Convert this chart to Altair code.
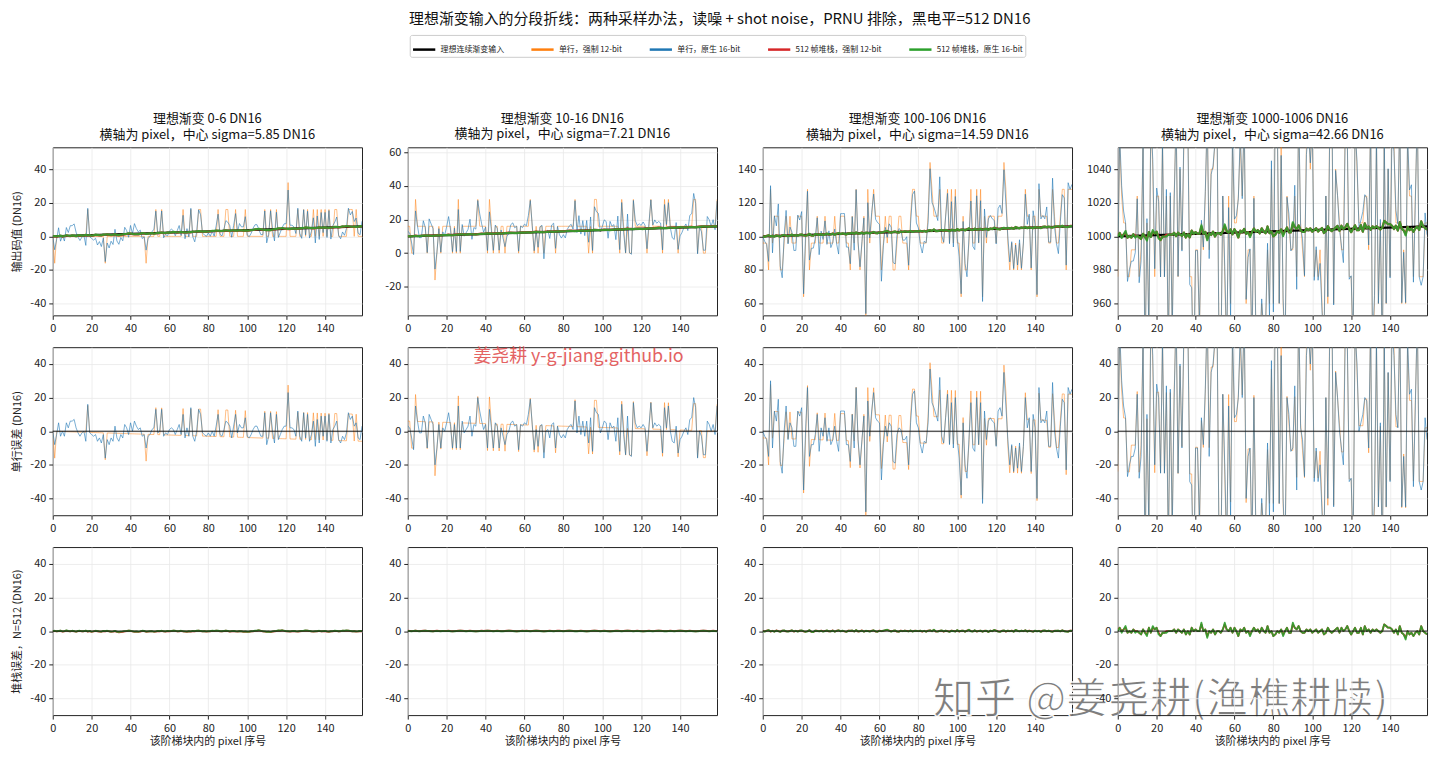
import altair as alt
import numpy as np
import pandas as pd

FONT = "Noto Sans CJK SC"

SERIES = ["理想连续渐变输入", "单行，强制 12-bit", "单行，原生 16-bit",
          "512 帧堆栈，强制 12-bit", "512 帧堆栈，原生 16-bit"]
COLORS = ["#000000", "#ff7f0e", "#1f77b4", "#d62728", "#2ca02c"]
WIDTHS = [2.2, 1.0, 1.0, 2.2, 2.2]
OPACS = [1.0, 0.5, 0.6, 1.0, 0.9]

IDEAL_LO = [0, 10, 100, 1000]
IDEAL_HI = [6, 16, 106, 1006]
LEVEL_TITLES = ["理想渐变 0-6 DN16", "理想渐变 10-16 DN16",
                "理想渐变 100-106 DN16", "理想渐变 1000-1006 DN16"]
SIGMA_TITLES = ["横轴为 pixel，中心 sigma=5.85 DN16", "横轴为 pixel，中心 sigma=7.21 DN16",
                "横轴为 pixel，中心 sigma=14.59 DN16", "横轴为 pixel，中心 sigma=42.66 DN16"]
ROW_TITLES = ["输出码值 (DN16)", "单行误差 (DN16)", "堆栈误差，N=512 (DN16)"]
X_TITLE = "该阶梯块内的 pixel 序号"
TOP_DOMAINS = [[-47, 53], [-37, 63], [53, 153], [953, 1053]]
TOP_TICKS = [[-40, -20, 0, 20, 40], [-20, 0, 20, 40, 60],
             [60, 80, 100, 120, 140], [960, 980, 1000, 1020, 1040]]
ERR_DOMAIN = [-50, 50]
ERR_TICKS = [-40, -20, 0, 20, 40]
X_TICKS = [0, 20, 40, 60, 80, 100, 120, 140]

# single row, native 16-bit: error vs ideal (DN16)
E16_C1 = [0,-8,-2,5,-3,0,-3,5,2,6,6,7,2,-1,-3,-1,0,-6,16,-1,
          -2,-3,-2,-6,-4,-7,-2,-16,-5,-8,-4,-6,3,-4,-6,-2,-4,4,2,-2,
          5,0,6,3,1,2,-3,-2,-10,-3,-2,1,2,13,-1,0,13,-3,-1,-2,
          1,2,1,-2,1,4,-2,10,-4,2,-3,14,-3,-6,0,13,10,-1,-2,-3,
          -1,-3,0,-3,3,10,-2,-3,1,6,5,3,-4,3,10,-1,4,2,2,8,
          -3,-4,-2,1,3,3,0,-3,-3,11,-8,-3,11,0,-7,10,-5,-2,1,3,
          3,23,2,2,1,-3,12,-3,-6,11,-4,10,-6,-2,6,-9,7,-7,9,-3,
          9,-6,10,-7,1,3,6,-5,-7,-3,-5,-1,11,7,9,3,5,-4,-5,3]
E16_C2 = [3,2,-4,-11,15,6,-1,-1,9,5,-10,10,7,4,-20,-10,4,-10,2,0,
          5,11,3,-10,4,-10,15,-10,6,-1,1,3,9,-3,4,3,20,12,6,1,
          4,-10,13,2,-10,5,3,-10,2,-3,-8,-2,0,5,6,3,4,-11,4,3,
          5,4,10,19,4,-11,1,-9,3,4,-16,0,1,-4,4,5,-10,3,-2,-4,
          -2,-4,1,3,4,1,18,-1,9,-2,6,-3,6,-7,8,-12,14,11,10,-1,
          2,6,5,-5,5,2,3,-6,8,-12,16,-2,-14,9,-14,-15,17,5,2,3,
          2,4,2,-12,3,17,2,5,3,4,3,-13,14,2,15,0,-6,-7,3,-13,
          -5,-3,0,2,-2,7,8,20,14,-16,0,-3,-14,-14,6,4,0,4,-2,15]
E16_C3 = [0,-3,-5,-15,30,-10,12,6,19,-18,-25,0,15,-5,5,2,-9,-9,12,9,
          14,-35,0,26,-15,-8,-8,-2,10,-12,2,-3,8,-6,2,-8,-5,3,-6,-12,
          12,12,12,-8,-8,-18,10,-10,26,-5,-20,-5,9,-48,18,-3,12,23,8,6,
          5,-29,-8,3,-3,5,3,-18,-19,-2,2,1,-5,-5,-3,-20,5,22,24,5,
          2,-8,-13,-6,-7,5,37,17,14,10,6,32,-3,-7,8,22,-8,17,-10,20,
          -5,-16,-38,5,-20,-28,-5,17,-10,-12,20,-8,17,-43,12,-5,6,8,6,5,
          -9,12,14,9,35,15,-5,-20,-8,-24,-10,-22,-7,-24,-9,20,2,8,-24,10,
          2,-40,26,5,7,5,12,-9,-9,29,0,-10,-16,3,19,17,-23,26,22,25]
E16_C4 = [-20,60,30,15,8,-27,-20,-15,-15,-10,22,-28,-15,55,-80,10,-60,70,45,-20,
          28,20,-25,55,-25,27,-70,25,-60,20,70,-25,40,-10,60,70,65,-30,-32,-90,
          -10,-10,-55,8,-8,25,70,-15,35,40,55,70,-60,-80,22,-20,-70,15,-50,60,
          8,10,20,60,20,70,-40,-15,-10,-70,20,-60,-80,-70,-40,-60,-55,-7,-50,42,
          -48,80,70,-43,45,-40,-70,20,10,-12,-10,27,-35,75,2,-5,-27,45,60,40,
          65,-30,-10,-30,-20,-48,-70,20,-40,60,90,-45,35,20,0,-10,-20,60,55,-30,
          -28,-70,60,40,0,5,10,20,18,-10,65,-70,-40,55,-45,5,-80,55,-45,35,
          -30,60,45,10,2,70,-45,-15,-45,55,22,25,-33,15,70,-30,-35,-30,8,-5]

# single row, forced 12-bit: output code in 12-bit units (x16 = DN16)
Q12_C1 = [0,-1,0,0,0,0,0,0,0,0,0,0,0,0,0,0,0,0,1,0,
          0,0,0,0,0,0,0,-1,0,0,0,0,0,0,0,0,0,0,0,0,
          0,0,0,0,0,0,0,0,-1,0,0,0,0,1,0,0,1,0,0,0,
          0,0,0,0,0,0,0,1,0,0,0,1,0,0,0,1,1,0,0,0,
          0,0,0,0,0,1,0,0,0,1,1,0,0,0,1,0,0,0,0,1,
          0,0,0,0,0,0,0,0,0,1,0,0,1,0,0,1,0,0,0,0,
          0,2,0,0,0,0,1,0,0,1,0,1,0,0,1,0,1,0,1,0,
          1,0,1,0,0,1,1,0,0,0,0,0,1,1,1,0,1,0,0,0]
Q12_C2 = [1,1,0,0,2,1,1,1,1,1,0,1,1,1,-1,0,1,0,1,1,
          1,1,1,0,1,0,2,0,1,1,1,1,1,1,1,1,2,1,1,1,
          1,0,2,1,0,1,1,0,1,1,0,1,1,1,1,1,1,0,1,1,
          1,1,1,2,1,0,1,0,1,1,0,1,1,1,1,1,0,1,1,1,
          1,1,1,1,1,1,2,1,1,1,1,1,1,0,1,0,2,2,1,1,
          1,1,1,1,1,1,1,1,1,0,2,1,0,1,0,0,2,1,1,1,
          1,1,1,0,1,2,1,1,1,1,1,0,2,1,2,1,1,1,1,0,
          1,1,1,1,1,1,1,2,2,0,1,1,0,0,1,1,1,1,1,2]
Q12_C3 = [6,6,6,5,8,6,7,7,7,5,5,6,7,6,7,6,6,6,7,7,
          7,4,6,8,5,6,6,6,7,6,6,6,7,6,6,6,6,7,6,6,
          7,7,7,6,6,5,7,6,8,6,5,6,7,3,8,6,7,8,7,7,
          7,5,6,7,6,7,7,5,5,6,7,7,6,6,6,5,7,8,8,7,
          7,6,6,6,6,7,9,8,7,7,7,8,6,6,7,8,6,8,6,8,
          6,6,4,7,5,5,6,8,6,6,8,6,8,4,7,6,7,7,7,7,
          6,7,7,7,9,8,6,5,6,5,6,5,6,5,6,8,7,7,5,7,
          7,4,8,7,7,7,7,6,6,8,7,6,6,7,8,8,5,8,8,8]
Q12_C4 = [61,66,64,63,63,61,61,62,62,62,64,61,62,66,58,63,59,67,65,61,
          64,64,61,66,61,64,58,64,59,64,67,61,65,62,66,67,67,61,61,57,
          62,62,59,63,62,64,67,62,65,65,66,67,59,58,64,61,58,64,60,66,
          63,63,64,66,64,67,60,62,62,58,64,59,58,58,60,59,59,62,60,65,
          60,68,67,60,66,60,58,64,63,62,62,64,61,67,63,62,61,66,67,65,
          67,61,62,61,62,60,58,64,60,67,68,60,65,64,63,62,62,67,66,61,
          61,58,67,65,63,63,63,64,64,62,67,58,60,66,60,63,58,66,60,65,
          61,67,66,63,63,67,60,62,60,66,64,64,61,64,67,61,61,61,63,63]

# 512-frame stack errors; columns 1-3 in tenths of DN16, column 4 in DN16
ST16_C1 = [0,2,-1,1,3,-2,0,4,1,-1,2,0,-3,1,2,-1,0,3,-2,1,
           -4,-1,2,0,-2,-3,1,0,2,-1,-3,-2,1,-4,-5,-3,-2,0,1,3,
           2,-1,-3,-2,-4,-1,2,1,-3,-2,-1,0,-3,-2,1,0,2,-1,-2,1,
           0,1,3,2,-1,0,2,-1,-2,-3,-1,-2,1,0,2,3,1,-1,0,-2,
           -1,0,2,1,3,2,0,-1,1,3,1,-2,0,1,-1,-2,0,-1,-3,-2,
           -4,-3,-1,0,2,3,5,2,-1,-2,-4,-3,-5,-2,0,1,4,3,5,2,
           0,-1,-2,0,1,-1,-2,0,1,2,4,3,1,-1,-2,-1,0,2,-1,0,
           1,-2,-3,-1,0,2,1,-1,0,3,2,4,3,1,-1,0,-2,-1,1,0]
ST12_C1 = [-1,1,-2,0,2,-3,-1,3,0,-2,1,-1,-4,0,1,-2,-1,2,-3,0,
           -5,-2,1,-1,-3,-4,0,-1,1,-2,-4,-3,0,-5,-7,-6,-4,-2,0,2,
           1,-2,-4,-3,-5,-3,1,0,-4,-3,-2,-1,-4,-3,0,-1,1,-2,-3,0,
           -1,0,2,1,-2,-1,1,-2,-3,-4,-2,-3,0,-1,1,2,0,-2,-1,-3,
           -2,-1,1,0,2,1,-1,-2,0,2,0,-3,-1,0,-2,-3,-1,-2,-4,-3,
           -5,-4,-2,-1,1,2,4,1,-2,-3,-5,-4,-6,-3,-1,0,3,2,4,1,
           -1,-2,-3,-1,0,-2,-3,-1,0,1,3,2,0,-2,-3,-2,-1,1,-2,-1,
           0,-3,-4,-2,-1,1,0,-2,-1,2,1,3,2,0,-2,-1,-3,-2,0,-1]
ST16_C2 = [1,0,-1,1,2,0,-1,0,1,2,1,0,-1,-2,0,1,0,-1,1,0,
           0,1,-1,-2,-1,0,1,2,1,0,-1,0,1,0,-1,-2,-1,0,1,0,
           1,2,1,0,-1,0,1,0,-1,-1,0,1,2,1,0,-1,-2,-1,0,1,
           0,1,0,-1,0,1,2,1,0,-1,-2,-1,0,1,0,-1,0,1,1,0,
           -1,0,1,2,1,0,-1,-1,0,1,0,-1,-2,-1,0,1,2,1,0,-1,
           0,1,0,-1,-2,-1,0,1,1,0,-1,0,1,2,1,0,-1,0,1,0,
           -1,-2,-1,0,1,0,-1,0,1,2,1,0,-1,-1,0,1,0,-1,0,1,
           2,1,0,-1,0,1,0,-1,-2,-1,0,1,2,1,0,-1,0,1,0,-1]
ST12_C2 = [2,1,0,1,3,1,0,1,2,2,1,1,0,-1,1,2,1,0,1,1,
           1,2,0,-1,0,1,2,3,2,1,0,1,2,1,0,-1,0,1,2,1,
           2,3,2,1,0,1,2,1,0,0,1,2,3,2,1,0,-1,0,1,2,
           1,2,1,0,1,2,3,2,1,0,-1,0,1,2,1,0,1,2,2,1,
           0,1,2,3,2,1,0,0,1,2,1,0,-1,0,1,2,3,2,1,0,
           1,2,1,0,-1,0,1,2,2,1,0,1,2,3,2,1,0,1,2,1,
           0,-1,0,1,2,1,0,1,2,3,2,1,0,0,1,2,1,0,1,2,
           3,2,1,0,1,2,1,0,-1,0,1,2,3,2,1,0,1,2,1,0]
ST16_C3 = [0,-3,2,6,-2,1,-4,3,-1,-5,2,4,-1,-3,0,5,-2,1,-3,2,
           4,-1,-5,-2,6,-4,-6,3,1,-2,2,-3,0,4,-1,-2,3,-4,1,5,
           -2,3,-1,-5,2,1,4,-3,6,-2,-1,3,-4,2,0,-3,1,5,-2,-4,
           2,-1,3,6,8,2,-3,1,4,-2,-4,2,-1,3,0,-2,4,-3,1,2,
           -1,3,-2,1,-4,2,5,-1,8,-2,-3,1,4,-2,3,-1,-5,2,0,-3,
           6,-2,1,3,-4,2,8,-1,-3,5,-2,0,3,-4,1,2,-6,3,-1,7,
           2,-3,-5,1,4,-2,3,-1,2,-4,7,1,-2,3,-1,5,-3,2,-1,-4,
           3,-2,1,-5,2,4,-1,3,-2,-4,1,2,3,-2,5,-1,-3,-4,2,1]
ST12_C3 = [1,-2,3,5,-3,2,-3,4,0,-4,3,3,-2,-2,1,4,-3,2,-2,3,
           3,-2,-4,-1,5,-5,-5,2,2,-1,3,-2,1,3,-2,-1,4,-3,2,4,
           -1,2,-2,-4,3,2,3,-2,5,-3,0,4,-3,1,1,-2,2,4,-3,-3,
           3,0,2,5,7,3,-2,2,3,-3,-3,3,0,2,1,-1,3,-2,2,1,
           0,2,-3,2,-3,3,4,0,7,-3,-2,2,3,-3,2,0,-4,3,1,-2,
           5,-3,2,2,-3,3,7,0,-2,4,-3,1,2,-3,2,1,-5,2,0,6,
           3,-2,-4,2,3,-3,2,0,3,-3,6,2,-1,2,0,4,-2,3,0,-3,
           2,-1,2,-4,3,3,0,2,-1,-3,2,1,2,-1,4,0,-2,-3,3,2]
ST16_C4 = [0,2,-1,1,3,-1,0,-1,1,-1,0,-1,-2,1,-1,-3,2,-1,3,1,
           2,-2,-3,-1,-1,-1,0,0,0,1,-1,1,0,-1,1,-2,0,-2,2,0,
           1,0,0,5,0,1,-4,0,-1,1,-2,0,0,-1,1,5,1,0,2,-1,
           2,0,-3,1,0,2,-1,0,-3,0,2,0,1,-1,2,0,-1,3,-1,0,
           -3,-2,0,-1,1,-3,0,2,-1,-1,5,2,1,3,0,-1,-1,1,0,1,
           -1,0,1,-1,0,1,-2,-1,2,0,-1,0,1,2,-1,2,0,1,3,0,
           -2,0,2,-1,-1,2,-2,3,0,1,-1,1,0,1,0,-1,0,4,3,2,
           2,1,-1,1,-2,3,-1,-2,-5,0,-2,-1,-3,-1,0,-2,3,0,-1,-2]
ST12_C4 = [1,2,0,1,2,-1,0,-1,1,0,0,-1,-2,1,-1,-2,2,-1,2,1,
           2,-1,-3,-1,-1,0,0,0,0,1,-1,1,0,-1,1,-2,0,-2,2,0,
           1,0,0,4,0,1,-3,0,-1,1,-2,0,0,-1,1,4,1,0,2,-1,
           2,0,-3,1,0,2,-1,0,-2,0,2,0,1,-1,2,0,-1,3,-1,0,
           -3,-2,0,-1,1,-2,0,2,-1,-1,4,2,1,3,0,-1,-1,1,0,1,
           -1,0,1,-1,0,1,-2,-1,2,0,-1,0,1,2,-1,2,0,1,3,0,
           -2,0,2,-1,-1,2,-2,3,0,1,-1,1,0,1,0,-1,0,4,3,2,
           2,1,-1,1,-2,3,-1,-2,-4,0,-2,-1,-3,-1,0,-2,3,0,-1,-2]

E16 = [E16_C1, E16_C2, E16_C3, E16_C4]
Q12 = [Q12_C1, Q12_C2, Q12_C3, Q12_C4]
ST16 = [ST16_C1, ST16_C2, ST16_C3, ST16_C4]
ST12 = [ST12_C1, ST12_C2, ST12_C3, ST12_C4]
ST_UNIT = [0.1, 0.1, 0.1, 1.0]
CODE_STEP = 16  # one 12-bit code = 16 DN16

WATERMARK_RED = "姜尧耕 y-g-jiang.github.io"
WATERMARK_ZHIHU = "知乎 @姜尧耕(渔樵耕牍)"

PANEL_W, PANEL_H = 311, 169

color_enc = alt.Color("series:N", scale=alt.Scale(domain=SERIES, range=COLORS), title=None)


def series_df(values, name, px=None):
    values = list(values)
    if px is None:
        px = list(range(len(values)))
    return pd.DataFrame({"px": px, "val": values, "series": name})


def make_panel(row, col):
    n = len(E16[col])
    ideal = np.linspace(IDEAL_LO[col], IDEAL_HI[col], n)
    e16 = np.array(E16[col], dtype=float)
    out12 = np.array(Q12[col], dtype=float) * CODE_STEP
    s16 = np.array(ST16[col], dtype=float) * ST_UNIT[col]
    s12 = np.array(ST12[col], dtype=float) * ST_UNIT[col]

    if row == 0:
        dom, ticks = TOP_DOMAINS[col], TOP_TICKS[col]
        layers_data = [
            (1, series_df(out12, SERIES[1])),
            (2, series_df(ideal + e16, SERIES[2])),
            (0, series_df([IDEAL_LO[col], IDEAL_HI[col]], SERIES[0], px=[0, n - 1])),
            (3, series_df(ideal + s12, SERIES[3])),
            (4, series_df(ideal + s16, SERIES[4])),
        ]
    elif row == 1:
        dom, ticks = ERR_DOMAIN, ERR_TICKS
        layers_data = [
            (1, series_df(out12 - ideal, SERIES[1])),
            (2, series_df(e16, SERIES[2])),
        ]
    else:
        dom, ticks = ERR_DOMAIN, ERR_TICKS
        layers_data = [
            (3, series_df(s12, SERIES[3])),
            (4, series_df(s16, SERIES[4])),
        ]

    ext = 27 if col == 0 else 35
    y_axis_kwargs = dict(values=ticks, minExtent=ext, maxExtent=ext,
                         labelExpr="'' + datum.value")
    y_axis_kwargs["title"] = ROW_TITLES[row] if col == 0 else None
    x_axis_kwargs = dict(values=X_TICKS, labelFlush=False)
    x_axis_kwargs["title"] = X_TITLE if row == 2 else None

    x_enc = alt.X("px:Q", scale=alt.Scale(domain=[0, 159], nice=False, zero=False),
                  axis=alt.Axis(**x_axis_kwargs))
    y_enc = alt.Y("val:Q", scale=alt.Scale(domain=dom, nice=False, zero=False),
                  axis=alt.Axis(**y_axis_kwargs))

    layers = []
    for idx, df in layers_data:
        w = WIDTHS[idx] if row < 2 else 1.8
        layers.append(
            alt.Chart(df).mark_line(clip=True, strokeJoin="round", strokeWidth=w,
                                    opacity=OPACS[idx]).encode(
                x=x_enc, y=y_enc, color=color_enc
            )
        )
    if row > 0:
        layers.append(
            alt.Chart(pd.DataFrame({"z": [0]})).mark_rule(color="#111111", strokeWidth=1)
            .encode(y=alt.datum(0))
        )
    if row == 1 and col == 1:
        layers.append(
            alt.Chart(pd.DataFrame({"t": [WATERMARK_RED]})).mark_text(
                align="left", baseline="middle", font=FONT, fontSize=18,
                color="#e04848", opacity=0.85
            ).encode(x=alt.value(66), y=alt.value(10), text="t:N")
        )
    if row == 2 and col == 2:
        layers.append(
            alt.Chart(pd.DataFrame({"t": [WATERMARK_ZHIHU]})).mark_text(
                align="left", baseline="middle", font=FONT, fontSize=42,
                fontWeight=500, color="#747474", opacity=0.92,
                stroke="white", strokeWidth=1.5
            ).encode(x=alt.value(171), y=alt.value(154), text="t:N")
        )

    props = dict(width=PANEL_W, height=PANEL_H)
    if row == 0:
        props["title"] = alt.TitleParams(text=[LEVEL_TITLES[col], SIGMA_TITLES[col]],
                                         fontSize=13, lineHeight=16, offset=5)
    return alt.layer(*layers).properties(**props)


panels = [make_panel(r, c) for r in range(3) for c in range(4)]

chart = (
    alt.concat(*panels, columns=4, spacing=alt.RowColnumber(row=32, column=46), bounds="flush")
    .resolve_scale(x="independent", y="independent")
    .properties(
        title=alt.TitleParams(
            text="理想渐变输入的分段折线：两种采样办法，读噪 + shot noise，PRNU 排除，黑电平=512 DN16",
            fontSize=15, anchor="middle", offset=7, color="#111111"),
        padding={"left": 3, "top": 2, "right": 4, "bottom": 0},
    )
    .configure(font=FONT)
    .configure_title(font=FONT, fontWeight="normal", fontSize=13, color="#111111")
    .configure_axis(
        labelFont=FONT, labelFontSize=11, labelColor="#222222",
        titleFont=FONT, titleFontSize=11, titleFontWeight="normal", titleColor="#222222",
        tickColor="#222222", tickSize=4, labelPadding=3, titlePadding=3,
        domain=False, gridColor="#e8e8e8", gridWidth=0.8,
    )
    .configure_view(stroke="#222222", strokeWidth=1)
    .configure_legend(
        orient="none", legendX=359, legendY=-113, direction="horizontal", columns=5,
        symbolType="stroke", symbolSize=500, symbolStrokeWidth=2.5, symbolOpacity=1,
        labelFont=FONT, labelFontSize=8,
        labelColor="#222222", strokeColor="#cccccc", fillColor="white",
        padding=2, columnPadding=22, labelLimit=300, cornerRadius=2,
    )
)

chart.save("out.html", embed_options={"renderer": "svg", "actions": False})
